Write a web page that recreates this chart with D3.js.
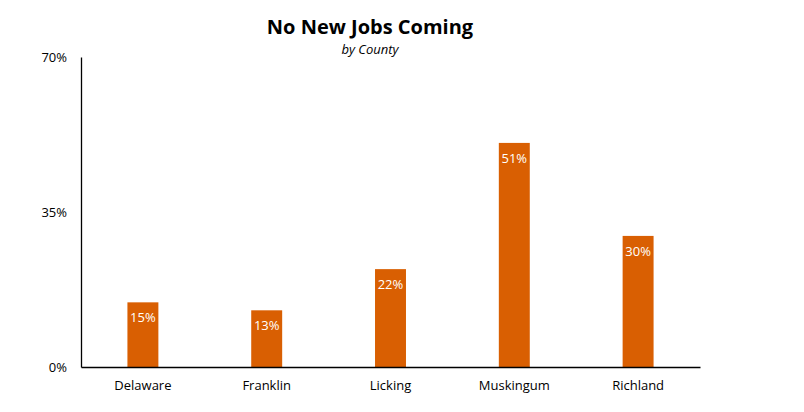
<!DOCTYPE html>
<html><head><meta charset="utf-8">
<script src="https://cdn.jsdelivr.net/npm/d3@7"></script>
<style>body{margin:0;background:#fff;} text{font-family:"Open Sans","Noto Sans",sans-serif;}</style>
</head><body>
<svg id="c" width="804" height="412"></svg>
<script>
const categories = ["Delaware","Franklin","Licking","Muskingum","Richland"];
const values = [14.6, 12.8, 22.1, 50.6, 29.6];
const labels = ["15%","13%","22%","51%","30%"];
const yTicks = [0, 35, 70];
const title = "No New Jobs Coming";
const subtitle = "by County";

const svg = d3.select("#c");
const m = {left:81, right:700, top:57, bottom:367};
const x = d3.scaleBand().domain(categories).range([m.left, m.right]).paddingInner(0.75).paddingOuter(0.375);
const y = d3.scaleLinear().domain([0,70]).range([m.bottom, m.top]);

svg.append("text").attr("x",370).attr("y",34).attr("text-anchor","middle")
  .attr("font-size",20).attr("font-weight","bold").attr("fill","#000").text(title);
svg.append("text").attr("x",370).attr("y",54).attr("text-anchor","middle")
  .attr("font-size",13).attr("font-style","italic").attr("fill","#000").text(subtitle);

svg.selectAll("rect.bar").data(categories).join("rect").attr("class","bar")
  .attr("x",d=>x(d)).attr("width",x.bandwidth())
  .attr("y",(d,i)=>y(values[i])).attr("height",(d,i)=>y(0)-y(values[i]))
  .attr("fill","#D95F02");

svg.selectAll("text.lbl").data(categories).join("text").attr("class","lbl")
  .attr("x",d=>x(d)+x.bandwidth()/2).attr("y",(d,i)=>y(values[i])+20)
  .attr("text-anchor","middle").attr("font-size",13).attr("fill","#fff")
  .text((d,i)=>labels[i]);

const yAxis = d3.axisLeft(y).tickValues(yTicks).tickSize(0).tickPadding(14).tickFormat(d=>d+"%");
const gy = svg.append("g").attr("transform",`translate(${m.left},0)`).call(yAxis);
gy.select(".domain").attr("stroke","#000").attr("stroke-width",1.3);
gy.selectAll("text").attr("font-size",13).attr("fill","#000").style("font-family","'Open Sans','Noto Sans',sans-serif");

const xAxis = d3.axisBottom(x).tickSize(0).tickPadding(14);
const gx = svg.append("g").attr("transform",`translate(0,${m.bottom})`).call(xAxis);
gx.select(".domain").attr("stroke","#000").attr("stroke-width",1.3);
gx.selectAll("text").attr("font-size",13).attr("fill","#000").style("font-family","'Open Sans','Noto Sans',sans-serif");
</script>
</body></html>
